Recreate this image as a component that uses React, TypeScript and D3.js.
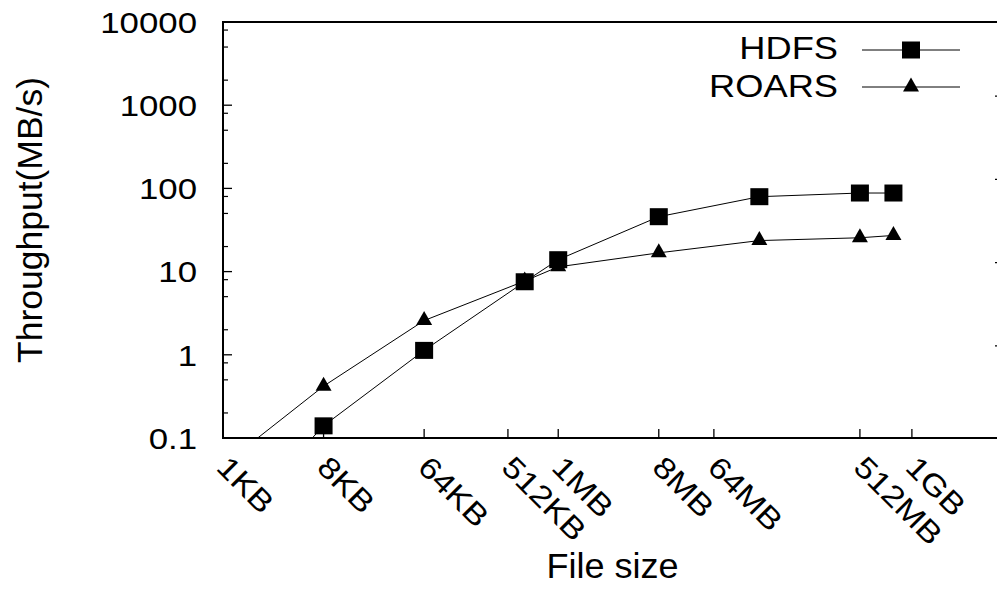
import * as d3 from "d3";

const WIDTH = 997;
const HEIGHT = 590;
const PLOT = { left: 223, right: 997, top: 22, bottom: 438 };
const FONT = "'Liberation Sans', Arial, Helvetica, sans-serif";

// file sizes in KB (log2 axis)
const fileSizes = [1, 8, 64, 512, 1024, 8192, 65536, 524288, 1048576];
const hdfs = [0.007, 0.14, 1.13, 7.55, 13.9, 45.7, 79.5, 88, 88];
const roars = [0.047, 0.42, 2.58, 7.7, 11.4, 16.8, 23.6, 25.5, 27.2];

// tick labels are placed where the original figure put them (in KB)
const xTickLabels = ["1KB", "8KB", "64KB", "512KB", "1MB", "8MB", "64MB", "512MB", "1GB"];
const xTickValues = [1, 8, 64, 362, 1024, 8192, 25600, 524288, 1536000];
const yTickValues = [0.1, 1, 10, 100, 1000, 10000];
const yTickLabels = ["0.1", "1", "10", "100", "1000", "10000"];
const yMinorFactors = [2, 5, 8];

const Square = ({ x, y }: { x: number; y: number }) => (
  <rect x={x - 9} y={y - 8.5} width={18} height={17} fill="#000" />
);

const Triangle = ({ x, y }: { x: number; y: number }) => (
  <path d={`M${x},${y - 9.5}L${x + 8},${y + 4.5}L${x - 8},${y + 4.5}Z`} fill="#000" />
);

const App = () => {
  const xScale = d3.scaleLog().base(2).domain([1, 2 ** 23]).range([PLOT.left, 994]);
  const yScale = d3.scaleLog().domain([0.1, 10000]).range([PLOT.bottom, PLOT.top]);

  const line = d3
    .line<number>()
    .x((_, i) => xScale(fileSizes[i]))
    .y((d) => yScale(d));

  const minorTicks: number[] = [];
  yTickValues.slice(0, -1).forEach((v) => yMinorFactors.forEach((f) => minorTicks.push(v * f)));

  return (
    <svg
      width={WIDTH}
      height={HEIGHT}
      style={{ position: "absolute", left: 0, top: 0, background: "#fff" }}
      fontFamily={FONT}
    >
      <defs>
        <clipPath id="plot-clip">
          <rect x={PLOT.left} y={PLOT.top} width={PLOT.right - PLOT.left} height={PLOT.bottom - PLOT.top} />
        </clipPath>
      </defs>
      <rect width={WIDTH} height={HEIGHT} fill="#fff" />

      {/* y ticks */}
      {yTickValues.map((v, i) => (
        <g key={v}>
          <line x1={PLOT.left} x2={PLOT.left + 9} y1={yScale(v)} y2={yScale(v)} stroke="#000" strokeWidth={1.3} />
          <text
            transform={`translate(197,${yScale(v) + 10.8}) scale(1.16,1)`}
            textAnchor="end"
            fontSize={30}
          >
            {yTickLabels[i]}
          </text>
        </g>
      ))}
      {minorTicks.map((v) => (
        <line key={v} x1={PLOT.left} x2={PLOT.left + 5} y1={yScale(v)} y2={yScale(v)} stroke="#000" strokeWidth={1.2} />
      ))}
      {/* mirror marks on the right edge */}
      {yTickValues.slice(1, -1).map((v) => (
        <line key={v} x1={995} x2={997} y1={yScale(v) - 9} y2={yScale(v) - 9} stroke="#000" strokeWidth={1.3} />
      ))}

      {/* x ticks */}
      {xTickValues.map((v, i) => (
        <g key={v}>
          <line x1={xScale(v)} x2={xScale(v)} y1={PLOT.bottom} y2={PLOT.bottom - 9} stroke="#000" strokeWidth={1.3} />
          <text
            transform={`translate(${xScale(v) - 8},469) rotate(45) scale(1.16,1)`}
            textAnchor="start"
            fontSize={30}
          >
            {xTickLabels[i]}
          </text>
        </g>
      ))}

      {/* series */}
      <g clipPath="url(#plot-clip)">
        <path d={line(hdfs) || ""} fill="none" stroke="#000" strokeWidth={1} />
        <path d={line(roars) || ""} fill="none" stroke="#000" strokeWidth={1} />
        {hdfs.map((d, i) => (
          <Square key={i} x={xScale(fileSizes[i])} y={yScale(d)} />
        ))}
        {roars.map((d, i) => (
          <Triangle key={i} x={xScale(fileSizes[i])} y={yScale(d)} />
        ))}
      </g>

      {/* border: left, top, bottom */}
      <path
        d={`M${PLOT.right},${PLOT.top}H${PLOT.left}V${PLOT.bottom}H${PLOT.right}`}
        fill="none"
        stroke="#000"
        strokeWidth={2}
      />

      {/* legend */}
      <text transform="translate(838,59) scale(1.17,1)" textAnchor="end" fontSize={31}>
        HDFS
      </text>
      <line x1={862} x2={960} y1={50} y2={50} stroke="#000" strokeWidth={1} />
      <Square x={911} y={50} />
      <text transform="translate(838,96.5) scale(1.17,1)" textAnchor="end" fontSize={31}>
        ROARS
      </text>
      <line x1={862} x2={960} y1={87} y2={87} stroke="#000" strokeWidth={1} />
      <Triangle x={911} y={87} />

      {/* axis titles */}
      <text transform="translate(42,220) rotate(-90)" textAnchor="middle" fontSize={35.5}>
        Throughput(MB/s)
      </text>
      <text transform="translate(612.5,578) scale(1.03,1)" textAnchor="middle" fontSize={35}>
        File size
      </text>
    </svg>
  );
};

export default App;
